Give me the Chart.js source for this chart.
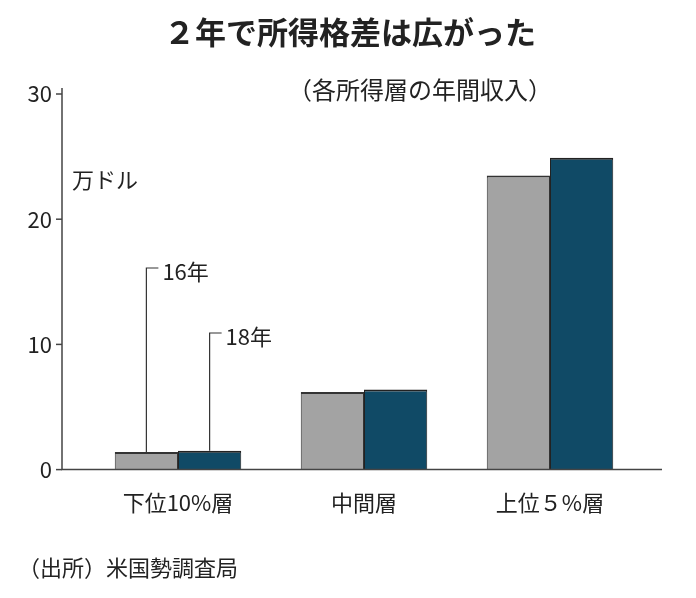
<!DOCTYPE html><html><head><meta charset="utf-8"><script src="https://cdn.jsdelivr.net/npm/chart.js@4"></script>
<style>body{margin:0;background:#fff}</style></head><body><canvas id="c" width="696" height="598"></canvas>
<script>
const categories=["下位10%層","中間層","上位５%層"];
const y2016=[1.4,6.2,23.5];
const y2018=[1.5,6.4,24.9];
const yTicks=[0,10,20,30];
const F='"Noto Sans CJK JP", sans-serif';
const deco={id:'deco',afterDraw(ch){const c=ch.ctx,y=ch.scales.y;c.save();
c.strokeStyle='#444';c.lineWidth=1.5;
const ax=62;c.beginPath();c.moveTo(ax,y.getPixelForValue(30)-6);c.lineTo(ax,y.getPixelForValue(0));c.lineTo(662,y.getPixelForValue(0));c.stroke();
c.fillStyle='#222';c.font='22px '+F;c.textAlign='right';c.textBaseline='middle';
yTicks.forEach(v=>{const p=y.getPixelForValue(v);c.beginPath();c.moveTo(ax-6,p);c.lineTo(ax,p);c.stroke();c.fillText(String(v),ax-10,p);});
c.textAlign='left';c.font='22px '+F;c.fillText('万ドル',72,180);
const m0=ch.getDatasetMeta(0).data[0],m1=ch.getDatasetMeta(1).data[0];
c.lineWidth=1.2;c.strokeStyle='#333';
[[m0,'16年',268],[m1,'18年',333]].forEach(([b,t,ly])=>{c.beginPath();c.moveTo(b.x,b.y);c.lineTo(b.x,ly);c.lineTo(b.x+12,ly);c.stroke();c.fillText(t,b.x+16,ly+4);});
c.font='bold 31px '+F;c.textAlign='center';c.fillText('２年で所得格差は広がった',350,32);
c.font='24px '+F;c.fillText('（各所得層の年間収入）',420,90);
c.textAlign='left';c.font='22px '+F;c.fillText('（出所）米国勢調査局',18,568);
c.restore();}};
new Chart(document.getElementById('c'),{type:'bar',data:{labels:categories,datasets:[
{data:y2016,backgroundColor:'#a3a3a3',borderColor:'#333',borderWidth:{top:2,left:1,right:1,bottom:0}},
{data:y2018,backgroundColor:'#104a66',borderColor:'#222',borderWidth:{top:2,left:1,right:1,bottom:0}}]},
options:{responsive:false,animation:false,devicePixelRatio:1,layout:{padding:{left:85,right:53,top:94,bottom:70}},
plugins:{legend:{display:false},tooltip:{enabled:false}},
datasets:{bar:{categoryPercentage:0.68,barPercentage:1}},
scales:{x:{grid:{display:false},border:{display:false},ticks:{color:'#222',font:{size:22,family:F},padding:12,maxRotation:0,autoSkip:false}},
y:{min:0,max:30,display:false}}},plugins:[deco]});
</script></body></html>
